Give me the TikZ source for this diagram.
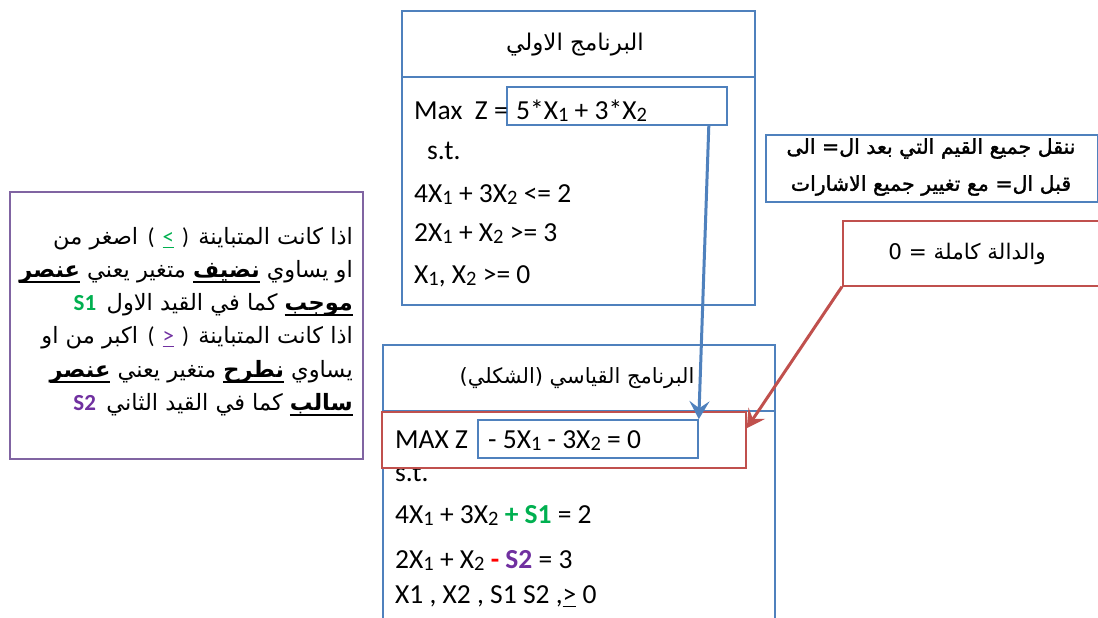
\documentclass[tikz,border=0pt]{standalone}
\usepackage{fontspec}
\setmainfont{Carlito}
\newfontfamily\arabicfont[Script=Arabic]{DejaVu Sans}
\newfontfamily\arabicheavy[Script=Arabic, FakeBold=1.6]{DejaVu Sans}
\TeXXeTstate=1
\usepackage{xcolor}
\definecolor{boxblue}{RGB}{79,129,189}
\definecolor{boxred}{RGB}{192,80,77}
\definecolor{boxpurple}{RGB}{128,100,162}
\definecolor{slackgreen}{RGB}{0,176,80}
\definecolor{slackpurple}{RGB}{112,48,160}
\definecolor{signred}{RGB}{255,0,0}
\usepackage{tikz}
\usetikzlibrary{arrows.meta, positioning}

% small lowered index digit
\newcommand{\lo}[1]{\raisebox{-2pt}{\fontsize{20.5}{20.5}\selectfont #1}}
% bold underlined word
\newcommand{\ulw}[1]{\setbox0\hbox{\bfseries #1}\hbox{\rule[-6pt]{\wd0}{1.6pt}\llap{\box0}}}
% underlined sign
\newcommand{\ulsym}[2]{\setbox0\hbox{\textcolor{#1}{#2}}\hbox{\textcolor{#1}{\rule[-4pt]{\wd0}{1.3pt}}\llap{\box0}}}

\begin{document}
\begin{tikzpicture}[x=1pt, y=-1pt,
  box/.style={draw=#1, line width=1.6pt, fill=white, inner sep=0pt},
  eq/.style={anchor=base west, inner sep=0pt, font=\fontsize{27.5}{27.5}\selectfont},
  artitle/.style={inner sep=0pt, font=\arabicfont\fontsize{22}{22}\selectfont},
  arline/.style={anchor=base east, inner sep=0pt, font=\arabicfont\fontsize{22.5}{22.5}\selectfont},
  signpar/.style={anchor=base east, inner sep=0pt, font=\fontsize{23}{23}\selectfont},
  slackname/.style={anchor=base east, inner sep=0pt, font=\bfseries\fontsize{23}{23}\selectfont},
  link/.style={line width=3pt, -{Stealth[length=18pt, width=20pt, inset=7pt]}}]

\useasboundingbox (0,0) rectangle (1098,618);
\clip (0,0) rectangle (1098,618);

% === First program ===
\node[box=boxblue, minimum width=353pt, minimum height=294pt] (prog1) at (578.5,158) {};
\draw[boxblue, line width=1.6pt] (prog1.west |- 0,77) -- (prog1.east |- 0,77);
\node[artitle, font=\arabicfont\fontsize{23}{23}\selectfont] (title1) at (575,45) {\beginR البرنامج الاولي\endR};

\node[box=boxblue, minimum width=220pt, minimum height=38pt] (obj1) at (617,106) {};
\node[eq] (max1) at (414,119) {Max\ \ Z =};
\node[eq] (f1) at (516,119) {5*X\lo1 + 3*X\lo2};
\node[eq] (st1) at (427,159) {s.t.};
\node[eq] (c11) at (414,202) {4X\lo1 + 3X\lo2 <= 2};
\node[eq] (c12) at (414,241) {2X\lo1 + X\lo2 >= 3};
\node[eq] (nn1) at (414,283) {X\lo1, X\lo2 >= 0};

% === Standard program ===
\node[box=boxblue, minimum width=392pt, minimum height=320pt, anchor=north west] (prog2) at (382,344) {};
\draw[boxblue, line width=1.6pt] (prog2.west |- 0,411) -- (prog2.east |- 0,411);
\node[artitle, font=\arabicfont\fontsize{21}{21}\selectfont] (title2) at (577,378) {\beginR البرنامج القياسي (الشكلي)\endR};

\node[eq] (st2) at (395,481) {s.t.};
\node[box=boxred, minimum width=364pt, minimum height=56pt] (zbox) at (564,440) {};
\node[box=boxblue, fill=none, minimum width=220pt, minimum height=38pt] (obj2) at (588,439) {};
\node[eq] (max2) at (395,448) {MAX Z};
\node[eq] (f2) at (488,448) {- 5X\lo1 - 3X\lo2 = 0};
\node[eq] (c21) at (395,523) {4X\lo1 + 3X\lo2 \textcolor{slackgreen}{\textbf{+ S1}} = 2};
\node[eq] (c22) at (395,568) {2X\lo1 + X\lo2 \textcolor{signred}{\textbf{-}} \textcolor{slackpurple}{\textbf{S2}} = 3};
\node[eq] (nn2) at (395,603) {X1 , X2 , S1 S2 ,\ulsym{black}{>} 0};

% === Slack rule note ===
\node[box=boxpurple, minimum width=353pt, minimum height=267pt] (note1) at (186.5,325.5) {};
\node[arline] (rl1) at (353,244) {\beginR اذا كانت المتباينة\endR};
\node[signpar] (sg1) at ([xshift=-9pt]rl1.base west) {(\hspace{8pt}\ulsym{slackgreen}{<}\hspace{8pt})};
\node[arline] (rl1b) at ([xshift=-9pt]sg1.base west) {\beginR اصغر من\endR};
\node[arline] (rl2) at (353,277) {\beginR او يساوي \ulw{نضيف} متغير يعني \ulw{عنصر}\endR};
\node[arline] (rl3) at (353,310) {\beginR\ulw{موجب} كما في القيد الاول\endR};
\node[slackname, slackgreen] (s1) at ([xshift=-10pt]rl3.base west) {S1};
\node[arline] (rl4) at (353,343) {\beginR اذا كانت المتباينة\endR};
\node[signpar] (sg2) at ([xshift=-9pt]rl4.base west) {(\hspace{8pt}\ulsym{slackpurple}{>}\hspace{8pt})};
\node[arline] (rl4b) at ([xshift=-9pt]sg2.base west) {\beginR اكبر من او\endR};
\node[arline] (rl5) at (353,377) {\beginR يساوي \ulw{نطرح} متغير يعني \ulw{عنصر}\endR};
\node[arline] (rl6) at (353,410) {\beginR\ulw{سالب} كما في القيد الثاني\endR};
\node[slackname, slackpurple] (s2) at ([xshift=-10pt]rl6.base west) {S2};

% === Move note ===
\node[box=boxblue, minimum width=332pt, minimum height=67pt, anchor=north west] (note2) at (765,134) {};
\node[inner sep=0pt, align=center, font=\arabicheavy\fontsize{20.5}{37}\selectfont] (move) at (931,167)
  {\beginR ننقل جميع القيم التي بعد ال= الى\endR\\\beginR قبل ال= مع تغيير جميع الاشارات\endR};

% === Zero note ===
\node[box=boxred, minimum width=270pt, minimum height=65pt, anchor=north west] (note3) at (842,220) {};
\node[inner sep=0pt, font=\arabicfont\fontsize{21.5}{21.5}\selectfont] (zero) at (967,254) {\beginR والدالة كاملة = 0\endR};

% arrows
\draw[link, boxblue] ([xshift=-19pt]obj1.south east) -- (obj2.north east);
\draw[link, boxred] (note3.south west) -- ([yshift=-17pt]zbox.north east);

\end{tikzpicture}
\end{document}
